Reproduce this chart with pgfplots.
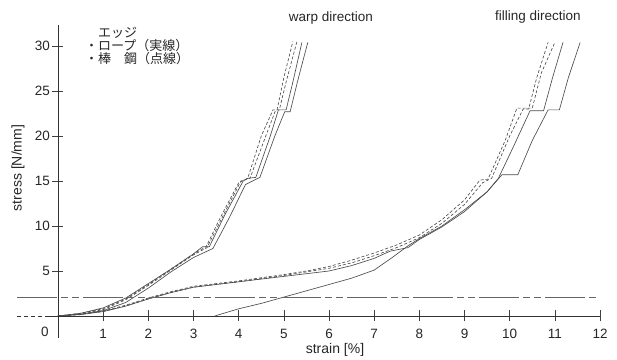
\documentclass[border=0pt]{standalone}
\usepackage{fontspec}
\setmainfont{Liberation Sans}
\newfontfamily\cjk{Noto Sans CJK JP}
\usepackage{pgfplots}
\pgfplotsset{compat=1.18}
\begin{document}
\begin{tikzpicture}
\begin{axis}[
  scale only axis, width=617pt, height=358pt,
  at={(0,0)}, anchor=south west,
  xmin=-1.284, xmax=12.376, ymin=-4.667, ymax=35.111,
  axis lines=middle, axis line style={draw=none},
  xtick={1,...,12}, ytick={5,10,...,30},
  tick align=center, major tick length=11pt,
  tick style={black!75, line width=0.6pt},
  /pgf/number format/assume math mode=true,
  ticklabel style={font=\fontsize{13.5}{15}\selectfont, text=black!85},
  xticklabel style={anchor=north, yshift=-4pt},
  yticklabel style={anchor=east, xshift=1pt},
  clip=false,
  every axis plot/.append style={black!70, line width=0.65pt},
]
% warp direction
\addplot[solid] coordinates {(0,0)(0.5,0.2)(1,0.6)(1.5,1.5)(2,3.1)(2.5,4.9)(3,6.5)(3.43,7.5)(3.8,11)(4.15,14.6)(4.47,15.4)(4.8,20)(5.02,22.7)(5.14,22.7)(5.3,26)(5.53,30.4)};
\addplot[solid] coordinates {(0,0)(0.5,0.3)(1,0.9)(1.5,2)(2,3.6)(2.5,5.2)(3,6.9)(3.2,7.7)(3.35,7.7)(3.7,11.3)(4.1,15.0)(4.2,15.3)(4.38,15.4)(4.7,20)(4.88,22.9)(5.05,22.9)(5.2,26)(5.4,30.4)};
\addplot[dash pattern=on 3pt off 2pt] coordinates {(0,0)(0.5,0.25)(1,0.7)(1.5,1.8)(2,3.4)(2.5,5.1)(3,6.8)(3.3,7.6)(3.7,11.6)(4.05,15.0)(4.25,15.3)(4.6,20)(4.82,22.9)(4.9,22.9)(5.05,26)(5.29,30.5)};
\addplot[dash pattern=on 3pt off 2pt] coordinates {(0,0)(0.5,0.3)(1,0.8)(1.5,1.9)(2,3.5)(2.5,5.2)(3,6.9)(3.28,7.7)(3.6,11)(4.0,14.8)(4.2,15.3)(4.5,20)(4.76,22.9)(4.85,22.9)(5.0,26.5)(5.2,30.5)};
% filling direction
\addplot[solid] coordinates {(3.47,0)(4,0.8)(4.5,1.4)(5,2.1)(5.5,2.8)(6,3.5)(6.5,4.2)(7,5.1)(7.4,6.5)(7.75,7.8)(8,8.6)(8.5,10)(9,11.8)(9.5,13.8)(9.83,15.7)(10.18,15.7)(10.5,19.5)(10.85,22.9)(11.1,22.9)(11.3,26.5)(11.56,30.4)};
\addplot[solid] coordinates {(0,0)(0.5,0.15)(1,0.5)(1.5,1.1)(2,1.9)(2.5,2.6)(3,3.2)(3.5,3.5)(4,3.8)(4.5,4.1)(5,4.4)(5.5,4.7)(6,5.0)(6.5,5.6)(7,6.4)(7.35,7.2)(7.75,7.6)(8,8.5)(8.5,9.9)(9,11.6)(9.5,13.8)(9.75,15.3)(10.1,19)(10.45,22.8)(10.75,22.8)(10.95,26.5)(11.18,30.4)};
\addplot[dash pattern=on 3pt off 2pt] coordinates {(0,0)(0.5,0.2)(1,0.55)(1.5,1.2)(2,2.0)(2.5,2.7)(3,3.3)(4,3.9)(5,4.6)(5.5,5.0)(6,5.5)(6.5,6.2)(7,7.0)(7.5,7.9)(8,9.0)(8.5,10.7)(9,12.9)(9.34,15.1)(9.52,15.2)(9.9,19.5)(10.16,23.1)(10.5,23.1)(10.7,27)(11.0,30.4)};
\addplot[dash pattern=on 3pt off 2pt] coordinates {(0,0)(0.5,0.2)(1,0.5)(1.5,1.1)(2,1.9)(2.5,2.6)(3,3.2)(4,3.8)(5,4.5)(5.5,4.9)(6,5.3)(6.5,5.9)(7,6.7)(7.5,7.6)(8,8.7)(8.5,10.3)(9,12.4)(9.4,14.8)(9.6,15.3)(10.0,20)(10.3,23.0)(10.42,23.0)(10.6,26.5)(10.85,30.4)};
% reference line
\addplot[black!60, line width=0.6pt, dash pattern=on 40pt off 4pt on 7pt off 4pt on 7pt off 4pt] coordinates {(-0.9,2.1)(12,2.1)};
% axis lines
\addplot[black!80, line width=0.7pt] coordinates {(-0.25,0)(12,0)};
\addplot[black!80, line width=0.7pt, dash pattern=on 4pt off 3pt] coordinates {(-0.9,0)(-0.25,0)};
\addplot[black!80, line width=0.7pt] coordinates {(0,-2.44)(0,32.3)};
\end{axis}
\node[font=\fontsize{13.5}{15}\selectfont, text=black!85] at (45pt,{(358-332)*1pt}) {0};
\node[font=\fontsize{13.5}{15}\selectfont, text=black!85] at (331pt,{(358-18)*1pt}) {warp direction};
\node[font=\fontsize{13.5}{15}\selectfont, text=black!85] at (538pt,{(358-17)*1pt}) {filling direction};
\node[font=\fontsize{14}{15}\selectfont, text=black!85] at (335pt,{(358-350)*1pt}) {strain [\%]};
\node[font=\fontsize{14}{15}\selectfont, text=black!85, rotate=90] at (18pt,{(358-168)*1pt}) {stress [N/mm]};
\node[font=\cjk\fontsize{13}{13}\selectfont, text=black!85, anchor=north west, align=left, inner sep=0pt] at (85pt,{(358-27)*1pt}) {　エッジ\\・ロープ（実線）\\・棒　鋼（点線）};
\end{tikzpicture}
\end{document}
